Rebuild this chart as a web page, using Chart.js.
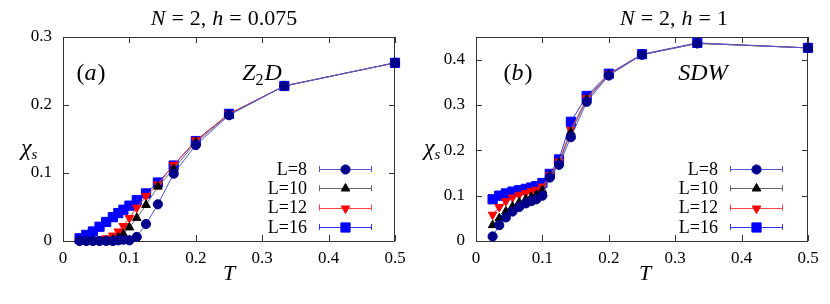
<!DOCTYPE html>
<html>
<head>
<meta charset="utf-8">
<script src="https://cdn.jsdelivr.net/npm/chart.js@4.4.0/dist/chart.umd.min.js"></script>
<style>
body { margin: 0; background: #fff; width: 830px; height: 304px; overflow: hidden; position: relative; }
.panel { position: absolute; top: 0; width: 415px; height: 304px; }
</style>
</head>
<body>
<div class="panel" style="left:0"><canvas id="leftChart" width="415" height="304"></canvas></div>
<div class="panel" style="left:415px"><canvas id="rightChart" width="415" height="304"></canvas></div>
<script>
// temperatures shared by every series
const temps = [0.025, 0.035, 0.045, 0.055, 0.065, 0.075, 0.0833, 0.0909, 0.1, 0.1111, 0.125, 0.1429, 0.1667, 0.2, 0.25, 0.3333, 0.5];
const seriesLabels = ['L=8', 'L=10', 'L=12', 'L=16'];

// panel (a): N=2, h=0.075
const leftL8  = [0.0, 0.0, 0.0, 0.0, 0.0, 0.0, 0.001, 0.002, 0.001, 0.006, 0.025, 0.054, 0.099, 0.141, 0.185, 0.228, 0.262];
const leftL10 = [0.0, 0.0, 0.0, 0.0, 0.0005, 0.002, 0.005, 0.010, 0.020, 0.034, 0.053, 0.080, 0.106, 0.145, 0.186, 0.228, 0.262];
const leftL12 = [0.0, 0.0, 0.001, 0.002, 0.004, 0.008, 0.014, 0.022, 0.034, 0.049, 0.066, 0.083, 0.112, 0.148, 0.187, 0.228, 0.262];
const leftL16 = [0.004, 0.009, 0.014, 0.021, 0.028, 0.035, 0.041, 0.046, 0.052, 0.060, 0.070, 0.086, 0.111, 0.147, 0.187, 0.228, 0.262];

// panel (b): N=2, h=1
const rightL8  = [0.010, 0.035, 0.052, 0.065, 0.075, 0.083, 0.088, 0.092, 0.100, 0.140, 0.168, 0.229, 0.307, 0.365, 0.411, 0.436, 0.426];
const rightL10 = [0.035, 0.050, 0.065, 0.076, 0.085, 0.092, 0.097, 0.102, 0.112, 0.143, 0.172, 0.240, 0.312, 0.367, 0.411, 0.436, 0.426];
const rightL12 = [0.058, 0.075, 0.088, 0.096, 0.102, 0.106, 0.110, 0.113, 0.120, 0.145, 0.175, 0.245, 0.315, 0.368, 0.411, 0.436, 0.426];
const rightL16 = [0.092, 0.100, 0.105, 0.109, 0.112, 0.115, 0.118, 0.121, 0.128, 0.148, 0.180, 0.263, 0.320, 0.369, 0.412, 0.437, 0.426];

const xTicks = [0, 0.1, 0.2, 0.3, 0.4, 0.5];
const leftYTicks = [0, 0.1, 0.2, 0.3];
const rightYTicks = [0, 0.1, 0.2, 0.3, 0.4];

const SERIF = '"Liberation Serif", "Times New Roman", serif';
const markStyles = [
    { pointStyle: 'circle',   radius: 4.6, rotation: 0,   fill: '#00008b', line: '#5555cc' },
    { pointStyle: 'triangle', radius: 5,   rotation: 0,   fill: '#000000', line: '#666666' },
    { pointStyle: 'triangle', radius: 5,   rotation: 180, fill: '#ff0000', line: '#ff4444' },
    { pointStyle: 'rect',     radius: 6.5, rotation: 0,   fill: '#0000ff', line: '#3333ff' }
];

function drawRich(ctx, parts, x, y, align) {
    // parts: [text, font, dx, dy]
    let total = 0;
    parts.forEach(p => { ctx.font = p[1]; total += ctx.measureText(p[0]).width + (p[2] || 0); });
    let cx = align === 'center' ? x - total / 2 : x;
    ctx.textAlign = 'left';
    ctx.textBaseline = 'alphabetic';
    parts.forEach(p => {
        ctx.font = p[1];
        ctx.fillText(p[0], cx, y + (p[3] || 0));
        cx += ctx.measureText(p[0]).width + (p[2] || 0);
    });
}

function makeDecor(cfg) {
    return {
        id: 'decor',
        beforeDatasetsDraw(chart) {
            const ctx = chart.ctx, a = chart.chartArea;
            const xs = chart.scales.x, ys = chart.scales.y;
            ctx.save();
            ctx.strokeStyle = '#333';
            ctx.lineWidth = 1;
            ctx.strokeRect(a.left + 0.5, a.top + 0.5, a.right - a.left - 1, a.bottom - a.top);
            ctx.beginPath();
            xTicks.forEach(v => {
                const px = Math.round(xs.getPixelForValue(v)) + 0.5;
                ctx.moveTo(px, a.bottom); ctx.lineTo(px, a.bottom - 6);
                ctx.moveTo(px, a.top); ctx.lineTo(px, a.top + 6);
            });
            cfg.yTicks.forEach(v => {
                const py = Math.round(ys.getPixelForValue(v)) + 0.5;
                ctx.moveTo(a.left, py); ctx.lineTo(a.left + 6, py);
                ctx.moveTo(a.right, py); ctx.lineTo(a.right - 6, py);
            });
            ctx.stroke();
            ctx.restore();
        },
        afterDraw(chart) {
            const ctx = chart.ctx;
            ctx.save();
            ctx.fillStyle = '#000';
            const it = 'italic 22px ' + SERIF, rm = '22px ' + SERIF;
            drawRich(ctx, cfg.title(it, rm), cfg.titleX, 25, 'center');
            // y title chi_s
            drawRich(ctx, [['χ', 'italic 24px ' + SERIF, 0, 0], ['s', 'italic 15px ' + SERIF, 0, 4]], cfg.yTitleX, 155, 'left');
            // x title
            drawRich(ctx, [['T', 'italic 22px ' + SERIF]], cfg.xTitleX, 280, 'center');
            // panel labels
            drawRich(ctx, [['(', '24px ' + SERIF], [cfg.tag, 'italic 24px ' + SERIF, 1], [')', '24px ' + SERIF]], cfg.tagX, 80, 'center');
            drawRich(ctx, cfg.phase, cfg.phaseX, 80, 'center');
            // legend
            const lf = '18px ' + SERIF;
            seriesLabels.forEach((lab, i) => {
                const y = 169 + i * 19.3;
                const st = markStyles[i];
                ctx.font = lf;
                ctx.textAlign = 'right';
                ctx.textBaseline = 'middle';
                ctx.fillStyle = '#000';
                ctx.fillText(lab, cfg.legX, y + 1);
                const x0 = cfg.legX + 12, x1 = cfg.legX + 65;
                ctx.strokeStyle = st.line;
                ctx.lineWidth = 1;
                ctx.beginPath();
                ctx.moveTo(x0, Math.round(y) + 0.5); ctx.lineTo(x1, Math.round(y) + 0.5);
                ctx.moveTo(x0 + 0.5, y - 3); ctx.lineTo(x0 + 0.5, y + 3);
                ctx.moveTo(x1 - 0.5, y - 3); ctx.lineTo(x1 - 0.5, y + 3);
                ctx.stroke();
                ctx.fillStyle = st.fill;
                ctx.strokeStyle = st.fill;
                Chart.helpers.drawPoint(ctx, { pointStyle: st.pointStyle, radius: st.radius, rotation: st.rotation, borderWidth: 1 }, (x0 + x1) / 2, Math.round(y) + 0.5);
            });
            ctx.restore();
        }
    };
}

function buildChart(canvasId, series, yMax, cfg) {
    const ctx = document.getElementById(canvasId).getContext('2d');
    const tickFont = { family: SERIF, size: 17 };
    new Chart(ctx, {
        type: 'scatter',
        data: {
            datasets: series.map((vals, i) => ({
                label: seriesLabels[i],
                data: temps.map((t, k) => ({ x: t, y: vals[k] })),
                showLine: true,
                clip: false,
                borderColor: markStyles[i].line,
                borderWidth: 1,
                backgroundColor: markStyles[i].fill,
                pointBackgroundColor: markStyles[i].fill,
                pointBorderColor: markStyles[i].fill,
                pointBorderWidth: 1,
                pointStyle: markStyles[i].pointStyle,
                pointRadius: markStyles[i].radius,
                pointRotation: markStyles[i].rotation,
                tension: 0
            }))
        },
        options: {
            responsive: false,
            animation: false,
            layout: { padding: { top: 37, right: cfg.padRight, left: 0, bottom: 0 } },
            plugins: { legend: { display: false }, tooltip: { enabled: false } },
            scales: {
                x: {
                    type: 'linear', min: 0, max: 0.5,
                    afterBuildTicks: s => { s.ticks = xTicks.map(v => ({ value: v })); },
                    ticks: { font: tickFont, color: '#000', padding: 7, maxRotation: 0,
                        callback: v => v === 0 ? '0' : v.toFixed(1) },
                    grid: { display: false, drawTicks: false },
                    border: { display: false },
                    afterFit: s => { s.height = 63; }
                },
                y: {
                    type: 'linear', min: 0, max: yMax,
                    afterBuildTicks: s => { s.ticks = cfg.yTicks.map(v => ({ value: v })); },
                    ticks: { font: tickFont, color: '#000', padding: 11,
                        callback: v => v === 0 ? '0' : v.toFixed(1) },
                    grid: { display: false, drawTicks: false },
                    border: { display: false },
                    afterFit: s => { s.width = cfg.padLeft; }
                }
            }
        },
        plugins: [makeDecor(cfg)]
    });
}

buildChart('leftChart', [leftL8, leftL10, leftL12, leftL16], 0.3, {
    padLeft: 63, padRight: 20, yTicks: leftYTicks,
    title: (it, rm) => [['N', it, 6], ['=', rm, 6], ['2,', rm, 6], ['h', it, 6], ['=', rm, 6], ['0.075', rm]],
    titleX: 224, yTitleX: 21, xTitleX: 229,
    tag: 'a', tagX: 91,
    phase: [['Z', 'italic 24px ' + SERIF], ['2', '16px ' + SERIF, 1, 5], ['D', 'italic 24px ' + SERIF]], phaseX: 262,
    legX: 307
});

buildChart('rightChart', [rightL8, rightL10, rightL12, rightL16], 0.45, {
    padLeft: 61, padRight: 22, yTicks: rightYTicks,
    title: (it, rm) => [['N', it, 6], ['=', rm, 6], ['2,', rm, 6], ['h', it, 6], ['=', rm, 6], ['1', rm]],
    titleX: 259, yTitleX: 9, xTitleX: 230,
    tag: 'b', tagX: 103,
    phase: [['SDW', 'italic 24px ' + SERIF]], phaseX: 288,
    legX: 303
});
</script>
</body>
</html>
